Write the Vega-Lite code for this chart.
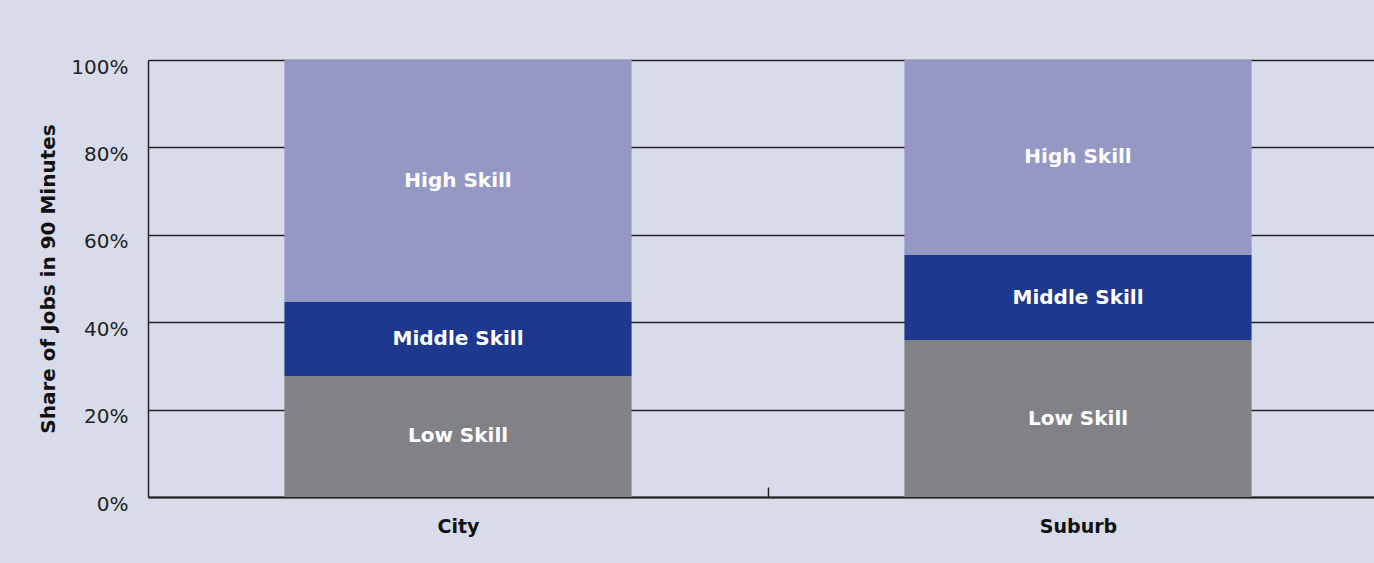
{
  "$schema": "https://vega.github.io/schema/vega-lite/v6.json",
  "autosize": {"type": "none"},
  "width": 1240,
  "height": 437,
  "padding": {"left": 148, "top": 60, "right": 0, "bottom": 66},
  "background": "#d8dbea",
  "config": {
    "view": {"stroke": null},
    "font": "DejaVu Sans"
  },
  "data": {
    "values": [
      {"area": "City", "skill": "Low Skill", "ord": 1, "share": 0.277},
      {"area": "City", "skill": "Middle Skill", "ord": 2, "share": 0.169},
      {"area": "City", "skill": "High Skill", "ord": 3, "share": 0.554},
      {"area": "Suburb", "skill": "Low Skill", "ord": 1, "share": 0.359},
      {"area": "Suburb", "skill": "Middle Skill", "ord": 2, "share": 0.195},
      {"area": "Suburb", "skill": "High Skill", "ord": 3, "share": 0.446}
    ]
  },
  "transform": [
    {"stack": "share", "groupby": ["area"], "sort": [{"field": "ord", "order": "ascending"}], "as": ["y0", "y1"]},
    {"calculate": "(datum.y0 + datum.y1) / 2", "as": "ymid"}
  ],
  "encoding": {
    "x": {
      "field": "area",
      "type": "nominal",
      "scale": {"paddingInner": 0.44, "paddingOuter": 0.22},
      "axis": {
        "title": null,
        "labelAngle": 0,
        "labelFont": "DejaVu Sans",
        "labelFontWeight": "bold",
        "labelFontSize": 19,
        "labelColor": "#111111",
        "labelPadding": 30,
        "tickOffset": 310,
        "labelOffset": -310,
        "tickSize": -10,
        "tickColor": "#222222",
        "tickWidth": 1.5,
        "domainColor": "#222222",
        "domainWidth": 2
      }
    }
  },
  "layer": [
    {
      "mark": {"type": "bar"},
      "encoding": {
        "y": {
          "field": "y0",
          "type": "quantitative",
          "scale": {"domain": [0, 1], "nice": false},
          "axis": {
            "title": "Share of Jobs in 90 Minutes",
            "titleFont": "DejaVu Sans",
            "titleFontSize": 20,
            "titleFontWeight": "bold",
            "titleColor": "#111111",
            "titlePadding": 12,
            "format": ".0%",
            "values": [0, 0.2, 0.4, 0.6, 0.8, 1],
            "labelFont": "DejaVu Sans",
            "labelFontSize": 20,
            "labelColor": "#222222",
            "labelPadding": 20,
            "labelOffset": 7,
            "ticks": false,
            "grid": true,
            "gridColor": "#222222",
            "gridWidth": 1.5,
            "domainColor": "#222222",
            "domainWidth": 1.5
          }
        },
        "y2": {"field": "y1"},
        "color": {
          "field": "skill",
          "type": "nominal",
          "scale": {
            "domain": ["Low Skill", "Middle Skill", "High Skill"],
            "range": ["#818286", "#1f388f", "#9597c5"]
          },
          "legend": null
        }
      }
    },
    {
      "mark": {"type": "text", "color": "white", "font": "DejaVu Sans", "fontWeight": "bold", "fontSize": 20, "baseline": "middle", "align": "center"},
      "encoding": {
        "y": {"field": "ymid", "type": "quantitative"},
        "text": {"field": "skill", "type": "nominal"}
      }
    }
  ]
}
